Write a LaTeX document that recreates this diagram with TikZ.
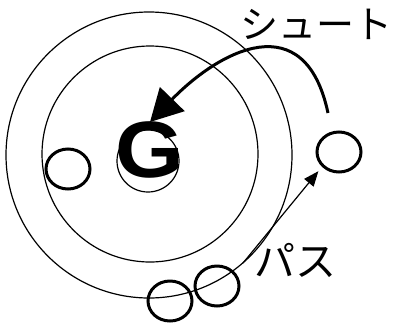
\documentclass[tikz,border=0pt]{standalone}
\usepackage{fontspec}
\newfontfamily\jpfont{Noto Sans CJK JP}
\newfontfamily\gfont{Liberation Sans}
\usetikzlibrary{arrows.meta,shapes.geometric}
\tikzset{
  ring/.style   = {line width=1.2pt},
  player/.style = {ellipse, draw, line width=3pt, minimum width=44pt, minimum height=40pt, inner sep=0pt},
  shoot/.style  = {line width=3pt, -{Triangle[length=32pt,width=34pt]}},
  pass/.style   = {line width=1.2pt, -{Triangle[length=15pt,width=12pt]}},
  lbl/.style    = {font=\jpfont\fontsize{38}{42}\selectfont, inner sep=0pt},
}
\begin{document}
\begin{tikzpicture}[x=1pt,y=-1pt]
  \useasboundingbox (0,0) rectangle (398,327);
  % rings
  \draw[ring] (149,155) circle (143);
  \draw[ring] (150,154) circle (108);
  \draw[ring] (148,161) circle (31);
  \node[font=\gfont\bfseries\fontsize{80}{80}\selectfont, xscale=1.1, inner sep=0pt] (goal) at (150,150) {G};
  % players
  \node[player] (left)   at (68,169)  {};
  \node[player] (right)  at (339,152) {};
  \node[player] (ballA)  at (170,301) {};
  \node[player] (ballB)  at (217,286) {};
  \coordinate (shot) at (328,113);
  \coordinate (aim) at (150,122);
  \coordinate (give) at (243,263);
  % shoot and pass
  \draw[shoot] (shot) .. controls (305,5) and (220,50) .. (aim);
  \draw[pass] (give) -- ([xshift=-4pt,yshift=-4pt]right.south west);
  \node[lbl] (shootlbl) at (316,24)  {シュート};
  \node[lbl,font=\jpfont\fontsize{41}{44}\selectfont] (passlbl) at (295,260) {パス};
\end{tikzpicture}
\end{document}
